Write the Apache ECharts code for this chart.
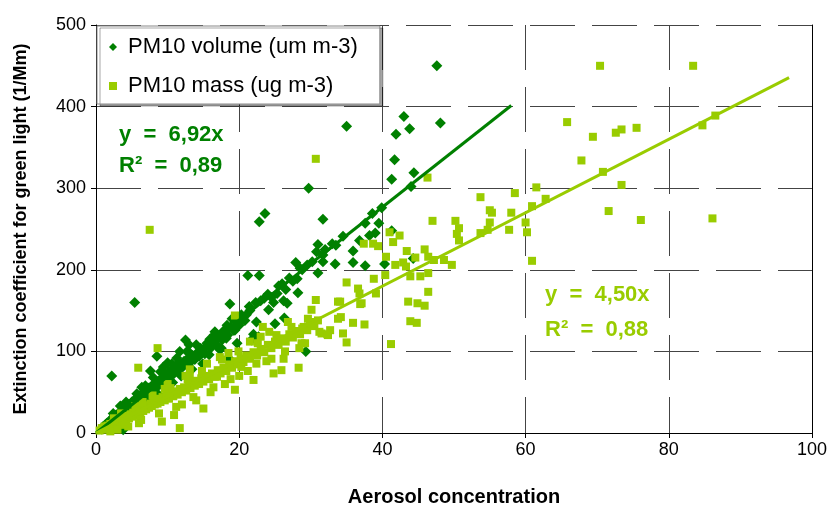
<!DOCTYPE html>
<html>
<head>
<meta charset="utf-8">
<script src="https://cdn.jsdelivr.net/npm/echarts@6/dist/echarts.min.js"></script>
<style>html,body{margin:0;padding:0;background:#fff}#c{width:830px;height:516px}</style>
</head>
<body>
<div id="c"></div>
<script>
// ---- data ----
const seriesNames = ['PM10 volume (um m-3)', 'PM10 mass (ug m-3)'];
const xTicks = [0, 20, 40, 60, 80, 100];
const yTicks = [0, 100, 200, 300, 400, 500];
// PM10 volume (x, extinction)
const volumePoints = [
  [0.8,5],[1.0,8],[1.2,6],[1.3,10],[1.5,12],[1.7,9],[1.9,14],[2.0,16],[2.2,13],[2.3,18],[2.5,20],[2.6,15],[2.8,22],[3.0,19],[3.1,24],[3.3,21],[3.5,27],[3.6,23],[3.8,30],[3.8,4],[4.0,26],[4.1,31],[4.3,28],[4.5,35],[4.6,30],[4.8,33],[5.0,38],[5.1,34],[5.3,40],[5.5,36],[5.6,42],[5.8,39],[6.0,45],[6.1,41],[6.3,47],[6.5,43],[6.6,50],[6.8,46],[7.0,52],[7.2,48],[7.4,55],[7.5,50],[7.7,57],[7.9,53],[8.1,60],[8.3,56],[8.5,63],[8.7,58],[8.9,65],[9.1,61],[9.3,68],[9.5,64],[9.7,72],[9.9,67],[10.2,75],[10.4,70],[10.6,78],[10.9,73],[11.1,82],[11.4,77],[11.7,85],[12.0,80],[12.3,88],[12.6,84],[12.9,92],[13.2,87],[13.5,95],[13.8,90],[14.1,98],[14.4,94],[14.8,102],[15.2,97],[15.6,108],[16.0,104],[16.4,112],[16.8,108],[17.2,118],[17.6,114],[18.0,124],[18.4,120],[18.8,130],[19.2,126],[19.6,136],[20.0,132],[20.5,140],[21.0,145],[21.5,150],
  [2.4,24],[3.2,14],[4.2,38],[4.9,25],[5.7,48],[6.2,34],[6.9,58],[7.3,40],[8.0,68],[8.6,48],[9.0,75],[9.6,55],[10.0,86],[10.7,62],[11.3,92],[11.9,70],[12.7,100],[13.4,78],[14.0,108],[14.9,85],[15.8,96],[16.6,124],[17.5,104],[3.4,33],[6.4,56],[10.3,64],[13.0,108],
  [15.5,110],[16.2,115],[16.5,120],[17.0,118],[17.8,125],[18.3,132],[19.0,140],[19.8,142],[20.3,145],[20.8,138],[22.3,160],[23.0,162],[23.5,165],[24.0,170],[24.5,166],[25.5,180],[26.0,183],[27.0,190],[27.5,186],[28.8,200],[29.5,206],[30.2,210],[32.0,225],[33.5,230],[34.5,241],
  [2.2,70],[5.4,160],[7.6,76],[8.5,94],[9.4,81],[10.6,85],[11.7,100],[12.5,114],[13.1,98],[14.6,104],[15.0,102],[15.9,115],[17.3,102],[18.5,92],[18.2,116],[18.7,158],[19.4,126],[19.7,110],
  [21.2,193],[22.8,193],[21.4,155],[22.0,121],[22.4,136],[22.7,118],[21.7,114],[22.8,259],[23.6,269],[24.1,151],[24.8,160],[25.0,134],[25.3,171],[26.2,162],[26.3,141],[26.5,176],[26.7,159],
  [27.9,209],[28.1,189],[28.2,172],[28.5,202],[29.3,100],[29.7,300],[30.8,222],[31.0,231],[31.0,196],[31.7,218],[31.7,262],[31.7,210],[33.0,232],[33.4,207],
  [35.0,376],[35.9,223],[35.9,209],[36.8,236],[37.6,257],[37.6,205],[38.2,242],[38.6,269],[39.0,245],[39.5,257],[39.9,276],[40.3,207],[41.3,311],[41.3,248],[41.7,335],[41.9,366],[43.0,388],[43.8,373],[44.0,302],[44.4,319],[44.3,214],[47.6,450],[48.1,380]
];
// PM10 mass (x, extinction)
const massPoints = [
  [0.5,3],[0.8,6],[1.0,4],[1.2,8],[1.4,5],[1.6,9],[1.8,7],[2.0,11],[2.2,8],[2.4,12],[2.6,10],[2.8,14],[3.0,11],[3.2,15],[3.4,13],[3.6,17],[3.8,14],[4.0,19],[4.2,16],[4.4,21],[4.6,18],[4.8,23],[5.0,20],[5.2,25],[5.4,21],[5.6,27],[5.8,24],[6.0,28],[6.2,25],[6.4,30],[6.6,27],[6.8,32],[7.0,29],[7.2,34],[7.4,31],[7.6,36],[7.8,33],[8.0,38],[8.2,35],[8.4,40],[8.6,36],[8.8,42],[9.0,38],[9.3,44],[9.6,40],[9.9,46],[10.2,42],[10.5,49],[10.8,45],[11.1,51],[11.4,47],[11.7,54],[12.0,50],[12.3,56],[12.6,52],[12.9,59],[13.2,55],[13.5,62],[13.8,58],[14.1,64],[14.4,60],[14.7,67],[15.0,63],[15.4,70],[15.8,66],[16.2,73],[16.6,69],[17.0,77],[17.4,73],[17.8,80],[18.2,76],[18.6,84],[19.0,80],[19.4,88],[19.8,84],[20.2,91],[20.6,87],[21.0,95],[21.5,91],[22.0,99],[22.5,95],[23.0,103],[23.5,99],[24.0,108],[24.5,104],[25.0,112],[25.5,108],[26.0,116],[26.5,112],[27.0,121],[27.5,117],[28.0,125],[28.5,121],[29.0,130],[29.5,126],[30.0,134],[30.5,131],[31.0,138],
  [2.5,18],[4.0,10],[5.5,33],[6.3,16],[7.9,46],[8.8,24],[10.4,55],[11.2,32],[12.8,66],[13.6,44],[14.8,76],[16.4,56],[17.6,90],[18.8,66],[19.9,100],[21.2,76],[22.6,110],[23.8,88],[25.2,120],[26.4,100],[27.3,130],[28.7,110],[29.6,140],[24.2,124],[26.8,136],
  [7.5,249],[30.7,336],[8.6,104],[5.9,80],[13.1,78],[9.6,54],[15.0,30],[11.7,6],[9.2,14],[10.9,22],[19.4,144],[19.4,53],[22.0,65],[24.5,91],[24.8,73],[28.3,80],[26.2,91],[28.4,104],[29.2,110],[21.0,93],[22.4,85],[25.9,77],[20.3,81],[16.9,69],[13.1,69],[17.3,93],[23.3,130],[28.8,128],[29.9,136],[30.1,151],[30.7,163],[31.2,124],[32.4,120],[32.7,126],[33.8,140],[33.8,161],[2.0,2],[3.0,4],[4.5,8],[6.0,12],[12.0,35],[14.0,40],[16.0,50],[18.0,60],[20.0,70],[3.5,24],[6.5,38],[10.0,60],[12.5,70],[15.5,85],[18.5,98],[21.5,112],[23.0,118],
  [31.5,122],[32.3,121],[34.5,122],[35.0,111],[34.2,142],[35.9,135],[37.5,133],[34.1,161],[37.1,159],[36.9,158],[36.8,171],[36.6,177],[35.0,184.5],[39.1,171],[38.8,189],[40.4,193.5],[41.2,109],[43.9,137],[44.8,135],[43.6,161],[44.9,159],[45.9,156],[46.4,173],[43.9,192],[45.3,192],[46.4,196],[40.5,216],[41.8,206],[42.9,209],[43.3,204],[43.4,223],[44.6,215],[45.9,225],[46.4,216],[47.2,212],[48.6,212],[49.7,206],[37.4,232],[38.7,232],[39.4,229],[41.0,246],[42.4,242],[41.5,234],[47.0,260],[50.2,260],[50.7,251],[50.4,244],[50.7,236],[46.3,313],
  [53.7,289],[53.7,245],[54.7,249],[55.0,273],[55.3,270],[55.0,258],[57.7,249],[58.0,270],[58.5,294],[60.0,258],[60.2,246],[60.9,278],[60.9,211],[61.5,301],[62.8,287],[65.8,381],[67.8,334],[69.4,363],[70.4,450],[70.8,320],[71.6,272],[72.6,368],[73.4,372],[73.4,304],[75.5,374],[76.1,261],[83.4,450],[84.7,377],[86.5,389],[86.1,263]
];
// fitted trend lines (end points)
const volumeTrend = [[0, 0], [58, 401.4]];
const massTrend = [[0, 0], [96.8, 435.6]];
const volumeLabel = ['y  =  6,92x', 'R²  =  0,89'];
const massLabel = ['y  =  4,50x', 'R²  =  0,88'];

const DARK = '#008000';
const LIGHT = '#99CC00';
const FONT = '"Liberation Sans", Arial, sans-serif';

const chart = echarts.init(document.getElementById('c'), null, {renderer: 'canvas'});
const gridLine = {show: true, lineStyle: {color: '#444', width: 1, type: [45, 17]}};
chart.setOption({
  animation: false,
  backgroundColor: '#fff',
  textStyle: {fontFamily: FONT},
  grid: {left: 96, right: 18, top: 25, bottom: 83, containLabel: false},
  xAxis: {
    type: 'value', min: xTicks[0], max: xTicks[xTicks.length - 1], interval: 20,
    name: 'Aerosol concentration', nameLocation: 'middle', nameGap: 54,
    nameTextStyle: {fontFamily: FONT, fontWeight: 'bold', fontSize: 20, color: '#000'},
    axisLine: {show: true, onZero: false, lineStyle: {color: '#000', width: 1}},
    axisTick: {show: true, length: 5, lineStyle: {color: '#000'}},
    axisLabel: {fontFamily: FONT, fontSize: 18, color: '#000', margin: 8},
    splitLine: gridLine
  },
  yAxis: [{
    type: 'value', min: yTicks[0], max: yTicks[yTicks.length - 1], interval: 100,
    name: 'Extinction coefficient for green light (1/Mm)', nameLocation: 'middle', nameGap: 66,
    nameTextStyle: {fontFamily: FONT, fontWeight: 'bold', fontSize: 18, color: '#000'},
    axisLine: {show: true, lineStyle: {color: '#000', width: 1}},
    axisTick: {show: true, length: 5, lineStyle: {color: '#000'}},
    axisLabel: {fontFamily: FONT, fontSize: 18, color: '#000', margin: 10},
    splitLine: gridLine
  }, {
    type: 'value', min: 0, max: 500, position: 'right',
    axisLine: {show: true, lineStyle: {color: '#000', width: 1}},
    axisTick: {show: false}, axisLabel: {show: false}, splitLine: {show: false}
  }],
  legend: {
    data: seriesNames, orient: 'vertical', left: 97, top: 26,
    padding: [10, 22, 7, 12], itemGap: 17, itemWidth: 8, itemHeight: 8,
    backgroundColor: '#fff', borderColor: '#888', borderWidth: 1,
    shadowColor: 'rgba(0,0,0,0.35)', shadowOffsetX: 3, shadowOffsetY: 2, shadowBlur: 0,
    textStyle: {fontFamily: FONT, fontSize: 22, color: '#000', padding: [0, 0, 0, 6], lineHeight: 22}
  },
  series: [
    {name: seriesNames[0], type: 'scatter', data: volumePoints, symbol: 'diamond', symbolSize: 11,
     itemStyle: {color: DARK, opacity: 1}},
    {name: seriesNames[1], type: 'scatter', data: massPoints, symbol: 'rect', symbolSize: 8,
     itemStyle: {color: LIGHT, opacity: 1}},
    {name: 'trendVolume', type: 'line', data: volumeTrend, showSymbol: false, symbol: 'none',
     lineStyle: {color: DARK, width: 3}, silent: true},
    {name: 'trendMass', type: 'line', data: massTrend, showSymbol: false, symbol: 'none',
     lineStyle: {color: LIGHT, width: 3}, silent: true}
  ],
  graphic: [
    {type: 'text', left: 119, top: 124, style: {text: volumeLabel[0], font: 'bold 22px ' + FONT, fill: DARK}},
    {type: 'text', left: 119, top: 155, style: {text: volumeLabel[1], font: 'bold 22px ' + FONT, fill: DARK}},
    {type: 'text', left: 545, top: 284, style: {text: massLabel[0], font: 'bold 22px ' + FONT, fill: LIGHT}},
    {type: 'text', left: 545, top: 319, style: {text: massLabel[1], font: 'bold 22px ' + FONT, fill: LIGHT}}
  ]
});
</script>
</body>
</html>
